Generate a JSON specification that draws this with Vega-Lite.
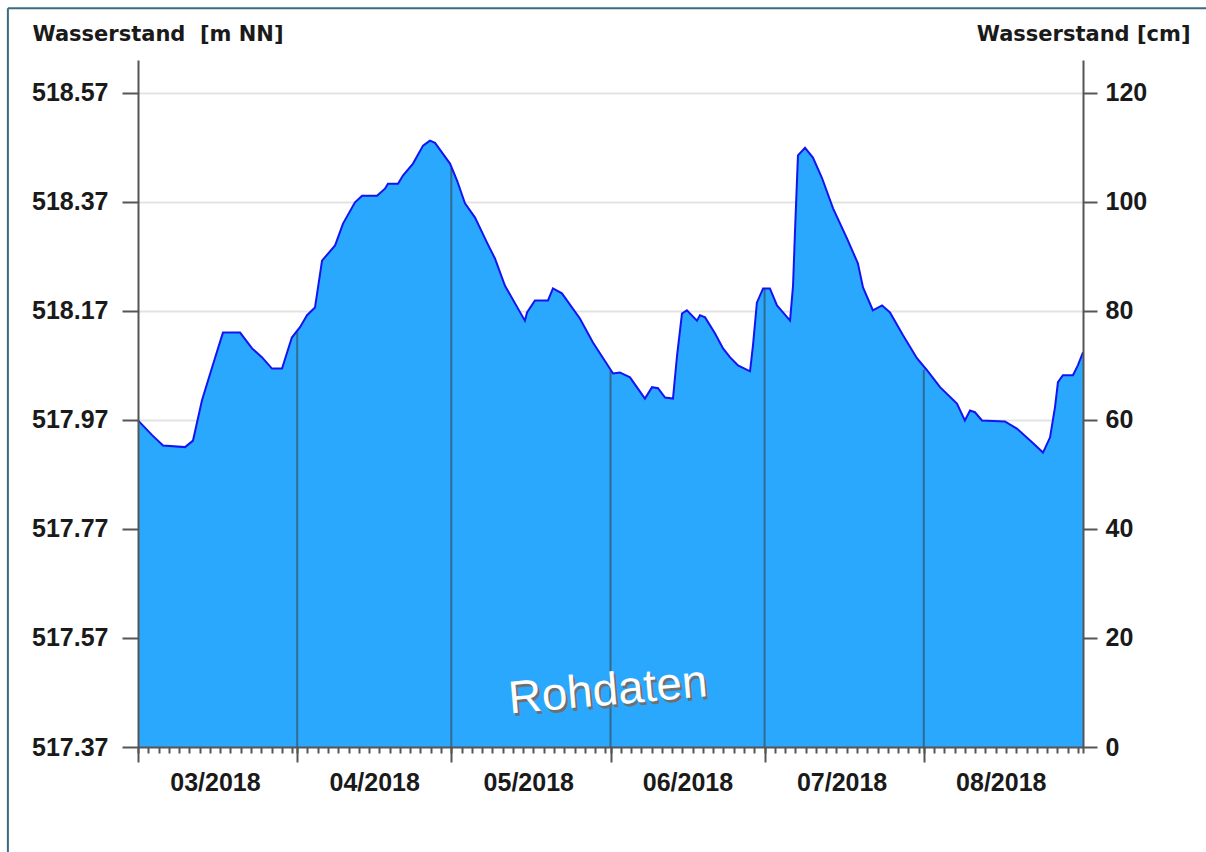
{
  "$schema": "https://vega.github.io/schema/vega-lite/v6.json",
  "width": 945,
  "height": 687,
  "autosize": {"type": "none"},
  "padding": {"left": 138, "top": 60, "right": 123, "bottom": 105},
  "background": "white",
  "config": {
    "view": {"stroke": null},
    "axis": {
      "labelFont": "Liberation Sans",
      "labelFontSize": 25,
      "labelFontWeight": "bold",
      "labelColor": "#1a1a1a",
      "domainColor": "#555555",
      "domainWidth": 2,
      "tickColor": "#555555",
      "tickWidth": 2,
      "labelFlush": false,
      "labelOverlap": false,
      "titleFont": "DejaVu Sans",
      "titleFontSize": 21,
      "titleFontWeight": "bold",
      "titleColor": "#1a1a1a"
    }
  },
  "datasets": {
    "pegel": [
      {"t": "2018-03-01T00:00:00Z", "v": 517.969},
      {"t": "2018-03-03T18:00:00Z", "v": 517.942},
      {"t": "2018-03-05T21:00:00Z", "v": 517.923},
      {"t": "2018-03-10T04:00:00Z", "v": 517.920},
      {"t": "2018-03-11T17:00:00Z", "v": 517.932},
      {"t": "2018-03-13T11:00:00Z", "v": 518.006},
      {"t": "2018-03-15T10:00:00Z", "v": 518.066},
      {"t": "2018-03-17T13:00:00Z", "v": 518.130},
      {"t": "2018-03-20T21:00:00Z", "v": 518.130},
      {"t": "2018-03-23T05:00:00Z", "v": 518.101},
      {"t": "2018-03-25T03:00:00Z", "v": 518.085},
      {"t": "2018-03-27T02:00:00Z", "v": 518.064},
      {"t": "2018-03-29T01:00:00Z", "v": 518.064},
      {"t": "2018-03-30T23:00:00Z", "v": 518.121},
      {"t": "2018-04-01T13:00:00Z", "v": 518.140},
      {"t": "2018-04-02T22:00:00Z", "v": 518.162},
      {"t": "2018-04-04T11:00:00Z", "v": 518.176},
      {"t": "2018-04-05T20:00:00Z", "v": 518.262},
      {"t": "2018-04-08T09:00:00Z", "v": 518.290},
      {"t": "2018-04-09T22:00:00Z", "v": 518.330},
      {"t": "2018-04-12T06:00:00Z", "v": 518.369},
      {"t": "2018-04-13T15:00:00Z", "v": 518.381},
      {"t": "2018-04-16T13:00:00Z", "v": 518.381},
      {"t": "2018-04-18T02:00:00Z", "v": 518.394},
      {"t": "2018-04-18T16:00:00Z", "v": 518.403},
      {"t": "2018-04-20T15:00:00Z", "v": 518.403},
      {"t": "2018-04-21T14:00:00Z", "v": 518.418},
      {"t": "2018-04-23T13:00:00Z", "v": 518.440},
      {"t": "2018-04-25T12:00:00Z", "v": 518.473},
      {"t": "2018-04-26T20:00:00Z", "v": 518.482},
      {"t": "2018-04-27T20:00:00Z", "v": 518.478},
      {"t": "2018-04-29T05:00:00Z", "v": 518.460},
      {"t": "2018-04-30T18:00:00Z", "v": 518.440},
      {"t": "2018-05-02T03:00:00Z", "v": 518.409},
      {"t": "2018-05-03T16:00:00Z", "v": 518.367},
      {"t": "2018-05-05T15:00:00Z", "v": 518.341},
      {"t": "2018-05-07T23:00:00Z", "v": 518.295},
      {"t": "2018-05-09T12:00:00Z", "v": 518.266},
      {"t": "2018-05-11T11:00:00Z", "v": 518.216},
      {"t": "2018-05-14T00:00:00Z", "v": 518.174},
      {"t": "2018-05-15T08:00:00Z", "v": 518.152},
      {"t": "2018-05-15T18:00:00Z", "v": 518.167},
      {"t": "2018-05-17T07:00:00Z", "v": 518.189},
      {"t": "2018-05-19T20:00:00Z", "v": 518.189},
      {"t": "2018-05-20T19:00:00Z", "v": 518.211},
      {"t": "2018-05-22T13:00:00Z", "v": 518.202},
      {"t": "2018-05-26T01:00:00Z", "v": 518.156},
      {"t": "2018-05-28T14:00:00Z", "v": 518.112},
      {"t": "2018-06-01T12:00:00Z", "v": 518.055},
      {"t": "2018-06-02T20:00:00Z", "v": 518.057},
      {"t": "2018-06-04T19:00:00Z", "v": 518.048},
      {"t": "2018-06-07T17:00:00Z", "v": 518.009},
      {"t": "2018-06-09T02:00:00Z", "v": 518.030},
      {"t": "2018-06-10T06:00:00Z", "v": 518.028},
      {"t": "2018-06-11T15:00:00Z", "v": 518.011},
      {"t": "2018-06-13T04:00:00Z", "v": 518.009},
      {"t": "2018-06-13T23:00:00Z", "v": 518.088},
      {"t": "2018-06-14T22:00:00Z", "v": 518.165},
      {"t": "2018-06-15T21:00:00Z", "v": 518.171},
      {"t": "2018-06-17T20:00:00Z", "v": 518.152},
      {"t": "2018-06-18T10:00:00Z", "v": 518.162},
      {"t": "2018-06-19T10:00:00Z", "v": 518.158},
      {"t": "2018-06-21T08:00:00Z", "v": 518.129},
      {"t": "2018-06-22T22:00:00Z", "v": 518.101},
      {"t": "2018-06-24T06:00:00Z", "v": 518.085},
      {"t": "2018-06-25T20:00:00Z", "v": 518.070},
      {"t": "2018-06-28T04:00:00Z", "v": 518.059},
      {"t": "2018-06-28T18:00:00Z", "v": 518.107},
      {"t": "2018-06-29T12:00:00Z", "v": 518.185},
      {"t": "2018-06-30T17:00:00Z", "v": 518.211},
      {"t": "2018-07-02T01:00:00Z", "v": 518.211},
      {"t": "2018-07-03T10:00:00Z", "v": 518.180},
      {"t": "2018-07-04T14:00:00Z", "v": 518.167},
      {"t": "2018-07-05T23:00:00Z", "v": 518.152},
      {"t": "2018-07-06T13:00:00Z", "v": 518.216},
      {"t": "2018-07-06T22:00:00Z", "v": 518.314},
      {"t": "2018-07-07T12:00:00Z", "v": 518.455},
      {"t": "2018-07-08T21:00:00Z", "v": 518.469},
      {"t": "2018-07-10T10:00:00Z", "v": 518.451},
      {"t": "2018-07-12T04:00:00Z", "v": 518.414},
      {"t": "2018-07-14T08:00:00Z", "v": 518.358},
      {"t": "2018-07-17T01:00:00Z", "v": 518.303},
      {"t": "2018-07-19T04:00:00Z", "v": 518.257},
      {"t": "2018-07-20T04:00:00Z", "v": 518.213},
      {"t": "2018-07-22T02:00:00Z", "v": 518.171},
      {"t": "2018-07-23T21:00:00Z", "v": 518.180},
      {"t": "2018-07-25T10:00:00Z", "v": 518.167},
      {"t": "2018-07-27T23:00:00Z", "v": 518.125},
      {"t": "2018-07-30T16:00:00Z", "v": 518.083},
      {"t": "2018-08-01T15:00:00Z", "v": 518.061},
      {"t": "2018-08-04T04:00:00Z", "v": 518.030},
      {"t": "2018-08-07T11:00:00Z", "v": 518.000},
      {"t": "2018-08-09T00:00:00Z", "v": 517.969},
      {"t": "2018-08-10T00:00:00Z", "v": 517.987},
      {"t": "2018-08-10T23:00:00Z", "v": 517.984},
      {"t": "2018-08-12T08:00:00Z", "v": 517.969},
      {"t": "2018-08-16T19:00:00Z", "v": 517.967},
      {"t": "2018-08-19T03:00:00Z", "v": 517.954},
      {"t": "2018-08-22T02:00:00Z", "v": 517.929},
      {"t": "2018-08-24T05:00:00Z", "v": 517.910},
      {"t": "2018-08-25T14:00:00Z", "v": 517.938},
      {"t": "2018-08-26T13:00:00Z", "v": 517.993},
      {"t": "2018-08-27T03:00:00Z", "v": 518.039},
      {"t": "2018-08-28T02:00:00Z", "v": 518.052},
      {"t": "2018-08-30T01:00:00Z", "v": 518.052},
      {"t": "2018-08-31T00:00:00Z", "v": 518.070},
      {"t": "2018-09-01T00:00:00Z", "v": 518.094}
    ],
    "monate": [
      {"t": "2018-04-01T00:00:00Z", "v": 518.132},
      {"t": "2018-05-01T00:00:00Z", "v": 518.432},
      {"t": "2018-06-01T00:00:00Z", "v": 518.060},
      {"t": "2018-07-01T00:00:00Z", "v": 518.211},
      {"t": "2018-08-01T00:00:00Z", "v": 518.062}
    ],
    "leer": [{}]
  },
  "resolve": {"axis": {"x": "independent", "y": "independent"}},
  "layer": [
    {
      "data": {"name": "pegel"},
      "mark": {"type": "area", "color": "#2aa8fe", "opacity": 1},
      "encoding": {
        "x": {
          "field": "t", "type": "temporal",
          "scale": {"type": "utc", "domain": [{"year": 2018, "month": 3, "date": 1, "utc": true}, {"year": 2018, "month": 9, "date": 1, "utc": true}]},
          "axis": {
            "orient": "bottom",
            "values": [
              {"year": 2018, "month": 3, "date": 1, "utc": true},
              {"year": 2018, "month": 4, "date": 1, "utc": true},
              {"year": 2018, "month": 5, "date": 1, "utc": true},
              {"year": 2018, "month": 6, "date": 1, "utc": true},
              {"year": 2018, "month": 7, "date": 1, "utc": true},
              {"year": 2018, "month": 8, "date": 1, "utc": true}
            ],
            "labelExpr": "utcFormat(datum.value, '%m/%Y')",
            "tickSize": 15, "labelPadding": 8, "labelOffset": 77,
            "grid": false, "title": null, "zindex": 1
          }
        },
        "y": {
          "field": "v", "type": "quantitative",
          "scale": {"domain": [517.37, 518.63], "nice": false, "zero": false},
          "axis": {
            "orient": "left",
            "values": [517.37, 517.57, 517.77, 517.97, 518.17, 518.37, 518.57],
            "format": ".2f",
            "tickSize": 16, "labelPadding": 14,
            "grid": false, "zindex": 1,
            "title": "Wasserstand\u00a0 [m NN]",
            "titleAngle": 0, "titleX": -106, "titleY": -20,
            "titleAlign": "left", "titleBaseline": "alphabetic"
          }
        },
        "y2": {"datum": 517.37}
      }
    },
    {
      "data": {"name": "monate"},
      "mark": {"type": "rule", "color": "#2f6b93", "strokeWidth": 2},
      "encoding": {
        "x": {
          "field": "t", "type": "temporal",
          "axis": {
            "orient": "bottom",
            "tickCount": {"interval": "day", "step": 2},
            "tickSize": 6, "labels": false, "domain": false, "grid": false,
            "title": null, "zindex": 1
          }
        },
        "y": {
          "field": "v", "type": "quantitative",
          "axis": {
            "orient": "right",
            "values": [517.37, 517.57, 517.77, 517.97, 518.17, 518.37, 518.57],
            "labelExpr": "format((datum.value - 517.37) * 100, '.0f')",
            "tickSize": 14, "labelPadding": 8,
            "grid": false, "zindex": 1,
            "title": "Wasserstand [cm]",
            "titleAngle": 0, "titleX": 107, "titleY": -20,
            "titleAlign": "right", "titleBaseline": "alphabetic"
          }
        },
        "y2": {"datum": 517.37}
      }
    },
    {
      "data": {"name": "pegel"},
      "mark": {"type": "line", "color": "#1414f2", "strokeWidth": 2},
      "encoding": {
        "x": {"field": "t", "type": "temporal", "axis": null},
        "y": {
          "field": "v", "type": "quantitative",
          "axis": {
            "orient": "left",
            "values": [517.57, 517.77, 517.97, 518.17, 518.37, 518.57],
            "grid": true, "gridColor": "#e3e3e3", "gridWidth": 2,
            "ticks": false, "labels": false, "domain": false,
            "title": null, "zindex": 0
          }
        }
      }
    },
    {
      "data": {"name": "leer"},
      "mark": {"type": "text", "text": "Rohdaten", "font": "Liberation Sans", "fontSize": 46, "angle": -5, "align": "center", "baseline": "middle", "color": "#6f6f6f", "dx": 2, "dy": 3},
      "encoding": {
        "x": {"datum": {"year": 2018, "month": 5, "date": 31, "hours": 12, "utc": true}, "type": "temporal", "axis": null},
        "y": {"datum": 517.473, "type": "quantitative", "axis": null}
      }
    },
    {
      "data": {"name": "leer"},
      "mark": {"type": "text", "text": "Rohdaten", "font": "Liberation Sans", "fontSize": 46, "angle": -5, "align": "center", "baseline": "middle", "color": "#ffffff"},
      "encoding": {
        "x": {"datum": {"year": 2018, "month": 5, "date": 31, "hours": 12, "utc": true}, "type": "temporal", "axis": null},
        "y": {"datum": 517.473, "type": "quantitative", "axis": null}
      }
    },
    {
      "data": {"name": "leer"},
      "mark": {"type": "rule", "color": "#3b6a82", "strokeWidth": 2, "clip": false},
      "encoding": {
        "x": {"datum": {"year": 2018, "month": 2, "date": 3, "hours": 16, "utc": true}, "type": "temporal", "axis": null},
        "x2": {"datum": {"year": 2018, "month": 10, "date": 1, "utc": true}},
        "y": {"datum": 518.725, "type": "quantitative", "axis": null}
      }
    },
    {
      "data": {"name": "leer"},
      "mark": {"type": "rule", "color": "#3b6a82", "strokeWidth": 2, "clip": false},
      "encoding": {
        "x": {"datum": {"year": 2018, "month": 2, "date": 3, "hours": 16, "utc": true}, "type": "temporal", "axis": null},
        "y": {"datum": 518.725, "type": "quantitative", "axis": null},
        "y2": {"datum": 517.0}
      }
    }
  ]
}
